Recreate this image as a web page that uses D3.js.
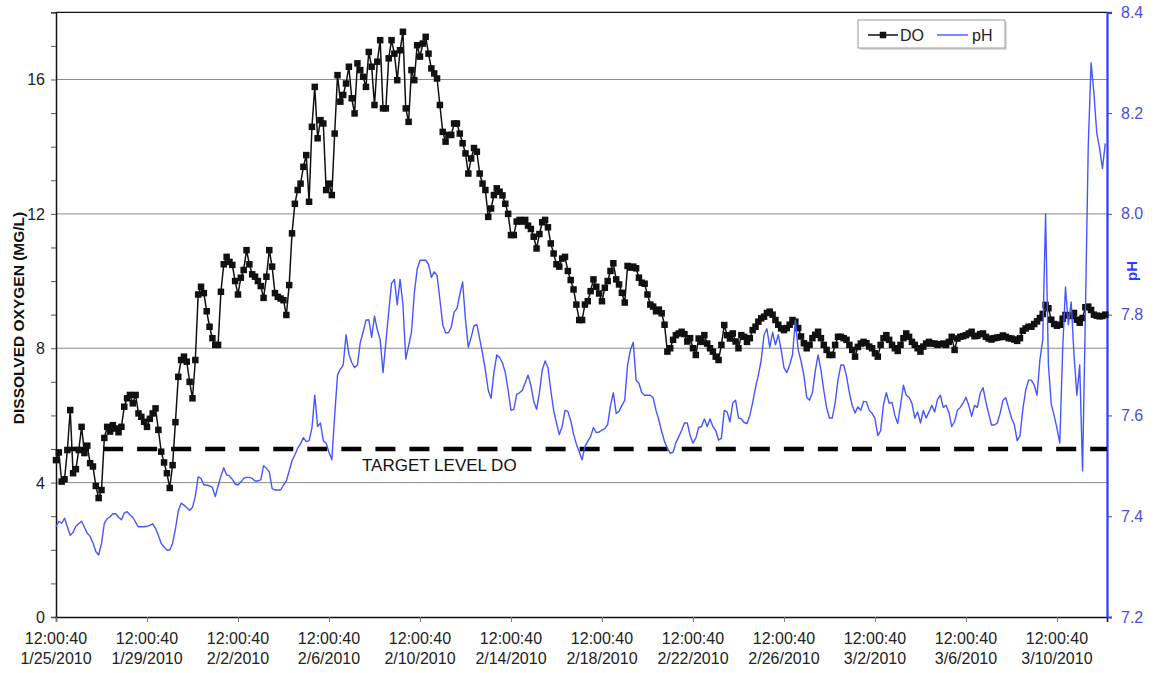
<!DOCTYPE html>
<html>
<head>
<meta charset="utf-8">
<script src="https://cdn.jsdelivr.net/npm/d3@7"></script>
<style>
  body { margin: 0; background: #fff; }
  text { font-family: Arial, "Liberation Sans", sans-serif; }
</style>
</head>
<body>
<svg id="chart" width="1154" height="673"></svg>
<script>
// Readings start 1/25/2010 12:00:40 and were logged every 3 hours.
const startTime = new Date(2010, 0, 25, 12, 0, 40);
const stepHours = 3;
const spanDays = 46.2;

// Dissolved oxygen, mg/L
const doValues = [
  4.67,4.9,4.03,4.1,4.97,6.16,4.28,4.4,4.97,5.66,
  4.88,5.1,4.58,4.48,3.9,3.54,3.78,5.33,5.66,5.52,
  5.71,5.61,5.5,5.66,6.26,6.51,6.61,6.36,6.61,6.06,
  5.96,5.81,5.66,5.9,6.06,6.21,5.57,4.92,4.6,4.28,
  3.84,4.52,5.8,7.15,7.65,7.75,7.6,7.0,6.51,7.65,
  9.6,9.83,9.64,9.1,8.64,8.3,8.1,8.1,9.68,10.5,
  10.72,10.57,10.48,10.0,9.6,10.1,10.33,10.92,10.5,10.2,
  10.13,10.0,9.85,9.5,10.13,10.92,10.43,9.64,9.53,9.48,
  9.43,8.99,9.88,11.42,12.3,12.71,12.9,13.4,13.75,12.36,
  14.59,15.78,14.25,14.79,14.69,12.71,12.9,12.56,14.39,16.13,
  15.34,15.54,15.88,16.38,15.44,14.99,16.48,16.28,16.08,15.78,
  16.82,16.38,15.24,16.53,17.17,15.14,15.14,16.63,17.17,16.77,
  15.98,16.87,17.42,15.14,14.74,16.28,15.98,17.02,16.68,17.07,
  17.27,16.77,16.33,16.18,16.03,15.24,14.44,14.15,14.35,14.35,
  14.69,14.69,14.39,14.1,13.8,13.2,13.65,13.96,13.85,13.2,
  12.9,12.71,11.91,12.16,12.56,12.76,12.66,12.55,12.3,12.0,
  11.37,11.37,11.77,11.82,11.77,11.82,11.65,11.55,11.32,10.97,
  11.4,11.75,11.82,11.6,11.12,10.82,10.5,10.43,10.67,10.72,
  10.3,10.03,9.75,9.3,8.84,8.84,9.3,9.4,9.7,10.05,
  9.83,9.63,9.4,9.8,10.0,10.3,10.53,10.05,9.9,9.65,
  9.36,10.45,10.4,10.43,10.38,10.1,9.95,9.92,9.6,9.3,
  9.24,9.1,9.15,9.04,8.7,7.9,8.0,8.25,8.39,8.44,
  8.49,8.42,8.2,8.3,8.0,7.8,8.29,8.19,8.39,8.14,
  8.0,7.9,7.75,7.65,8.1,8.69,8.39,8.29,8.44,8.2,
  8.0,8.39,8.34,8.19,8.3,8.54,8.64,8.79,8.89,8.94,
  9.05,9.09,9.0,8.84,8.7,8.59,8.54,8.6,8.7,8.84,
  8.79,8.6,8.35,8.15,8.0,8.1,8.3,8.4,8.49,8.3,
  8.1,7.95,7.8,7.8,8.1,8.34,8.34,8.3,8.25,8.1,
  7.95,7.75,8.04,8.14,8.19,8.15,8.05,8.0,7.85,7.75,
  8.1,8.3,8.39,8.25,8.1,8.0,7.92,8.1,8.3,8.44,
  8.34,8.19,8.1,8.0,7.9,8.05,8.14,8.19,8.14,8.14,
  8.1,8.12,8.14,8.1,8.19,8.34,7.95,8.29,8.34,8.36,
  8.39,8.44,8.49,8.36,8.37,8.42,8.44,8.34,8.29,8.26,
  8.3,8.32,8.33,8.38,8.34,8.3,8.29,8.26,8.22,8.3,
  8.52,8.59,8.64,8.64,8.72,8.8,8.9,9.02,9.29,9.19,
  8.85,8.72,8.67,8.7,8.88,8.99,8.98,8.96,9.05,8.85,
  8.76,8.9,9.22,9.24,9.14,9.0,8.97,8.95,8.96,9.0
];

// pH
const phValues = [
  7.379,7.39,7.386,7.396,7.379,7.362,7.368,7.38,7.385,7.39,
  7.378,7.366,7.36,7.347,7.33,7.323,7.346,7.386,7.395,7.399,
  7.405,7.405,7.398,7.393,7.406,7.409,7.403,7.398,7.388,7.379,
  7.379,7.379,7.38,7.382,7.385,7.376,7.362,7.346,7.339,7.333,
  7.333,7.346,7.375,7.41,7.426,7.422,7.417,7.412,7.418,7.44,
  7.478,7.475,7.462,7.462,7.46,7.457,7.439,7.46,7.48,7.496,
  7.482,7.48,7.473,7.464,7.462,7.468,7.475,7.477,7.477,7.475,
  7.47,7.47,7.472,7.5,7.495,7.488,7.455,7.452,7.452,7.452,
  7.462,7.47,7.49,7.51,7.522,7.535,7.544,7.556,7.548,7.55,
  7.575,7.64,7.578,7.585,7.55,7.545,7.527,7.512,7.6,7.68,
  7.692,7.7,7.76,7.722,7.705,7.695,7.7,7.745,7.765,7.789,
  7.79,7.755,7.797,7.77,7.75,7.685,7.745,7.805,7.862,7.87,
  7.82,7.87,7.82,7.712,7.738,7.765,7.842,7.89,7.908,7.908,
  7.908,7.9,7.874,7.885,7.878,7.83,7.78,7.764,7.764,7.775,
  7.805,7.812,7.84,7.865,7.79,7.735,7.755,7.778,7.78,7.752,
  7.723,7.69,7.65,7.634,7.685,7.72,7.715,7.704,7.685,7.65,
  7.61,7.612,7.642,7.645,7.65,7.665,7.68,7.66,7.628,7.612,
  7.645,7.69,7.708,7.695,7.65,7.61,7.585,7.562,7.578,7.61,
  7.608,7.59,7.563,7.543,7.528,7.512,7.538,7.549,7.558,7.576,
  7.566,7.567,7.571,7.574,7.582,7.62,7.645,7.604,7.608,7.62,
  7.63,7.7,7.73,7.745,7.67,7.664,7.645,7.64,7.64,7.64,
  7.635,7.61,7.591,7.568,7.548,7.535,7.525,7.527,7.546,7.558,
  7.57,7.585,7.585,7.56,7.545,7.555,7.576,7.578,7.593,7.578,
  7.593,7.578,7.57,7.551,7.555,7.61,7.607,7.587,7.625,7.63,
  7.595,7.593,7.586,7.584,7.6,7.626,7.655,7.68,7.71,7.76,
  7.772,7.735,7.765,7.74,7.76,7.73,7.695,7.685,7.7,7.72,
  7.789,7.73,7.708,7.68,7.636,7.63,7.645,7.688,7.72,7.69,
  7.65,7.615,7.595,7.595,7.625,7.67,7.7,7.7,7.678,7.645,
  7.62,7.605,7.617,7.61,7.628,7.627,7.61,7.604,7.594,7.56,
  7.57,7.622,7.645,7.624,7.626,7.6,7.584,7.62,7.66,7.64,
  7.636,7.624,7.595,7.607,7.585,7.61,7.595,7.607,7.62,7.607,
  7.632,7.64,7.616,7.62,7.606,7.578,7.588,7.61,7.616,7.625,
  7.636,7.62,7.598,7.62,7.616,7.644,7.655,7.627,7.603,7.581,
  7.581,7.585,7.604,7.63,7.635,7.615,7.595,7.582,7.55,7.56,
  7.612,7.65,7.67,7.67,7.66,7.64,7.71,7.75,8.0,7.7,
  7.622,7.6,7.575,7.545,7.73,7.855,7.78,7.825,7.72,7.64,
  7.7,7.49,7.8,8.133,8.3,8.24,8.16,8.13,8.09,8.14
];

const targetDO = 5;
const targetLabel = "TARGET LEVEL DO";
const xTickDates = ["1/25/2010","1/29/2010","2/2/2010","2/6/2010","2/10/2010","2/14/2010",
                    "2/18/2010","2/22/2010","2/26/2010","3/2/2010","3/6/2010","3/10/2010"];
const xTickTime = "12:00:40";
const doTicks = [0, 4, 8, 12, 16];
const doMinorTicks = d3.range(0, 19, 1);
const phTicks = [7.2, 7.4, 7.6, 7.8, 8.0, 8.2, 8.4];
const seriesNames = ["DO", "pH"];
const leftTitle = "DISSOLVED OXYGEN (MG/L)";
const rightTitle = "pH";

const HOUR = 3600 * 1000, DAY = 24 * HOUR;
const timeOf = i => new Date(startTime.getTime() + i * stepHours * HOUR);
const doSeries = doValues.map((v, i) => ({ t: timeOf(i), v }));
const phSeries = phValues.map((v, i) => ({ t: timeOf(i), v }));
const parseDate = d3.timeParse("%m/%d/%Y %H:%M:%S");
const tickDates = xTickDates.map(s => parseDate(s + " " + xTickTime));

const svg = d3.select("#chart");
const m = { left: 56, right: 1107, top: 12.3, bottom: 617 };

const x = d3.scaleTime()
  .domain([startTime, new Date(startTime.getTime() + spanDays * DAY)])
  .range([m.left, m.right]);
const yDO = d3.scaleLinear().domain([0, 18]).range([m.bottom, m.top]);
const yPH = d3.scaleLinear().domain([7.2, 8.4]).range([m.bottom, m.top]);

const black = "#111", blue = "#2a3cff", phLine = "#4656ff", phText = "#4b4fd6";

// horizontal gridlines
svg.append("g").selectAll("line").data(doTicks.filter(d => d > 0)).join("line")
  .attr("x1", m.left).attr("x2", m.right)
  .attr("y1", d => yDO(d)).attr("y2", d => yDO(d))
  .attr("stroke", "#8c8c8c").attr("stroke-width", 1);

// plot frame top
svg.append("line").attr("x1", m.left).attr("x2", m.right)
  .attr("y1", m.top).attr("y2", m.top).attr("stroke", black).attr("stroke-width", 1.2);

// left axis (DO)
const leftAxis = svg.append("g").attr("transform", `translate(${m.left},0)`)
  .call(d3.axisLeft(yDO).tickValues(doMinorTicks).tickSize(5).tickFormat(""));
leftAxis.select(".domain").attr("stroke", black).attr("stroke-width", 1.5);
leftAxis.selectAll(".tick line").attr("stroke", "#555");
svg.append("g").selectAll("text").data(doTicks).join("text")
  .attr("x", m.left - 11).attr("y", d => yDO(d) + 6)
  .attr("text-anchor", "end").attr("font-size", 16).attr("fill", "#222")
  .text(d => d);

// bottom axis (time)
const bottomAxis = svg.append("g").attr("transform", `translate(0,${m.bottom})`)
  .call(d3.axisBottom(x).tickValues(tickDates).tickSize(5).tickFormat(""));
bottomAxis.select(".domain").attr("stroke", black).attr("stroke-width", 1.5);
bottomAxis.selectAll(".tick line").attr("stroke", "#777");
const fmtTime = d3.timeFormat("%H:%M:%S"), fmtDate = d3.timeFormat("%-m/%-d/%Y");
const xl = svg.append("g").selectAll("text").data(tickDates).join("text")
  .attr("text-anchor", "middle").attr("font-size", 16).attr("fill", "#222");
xl.append("tspan").attr("x", d => x(d)).attr("y", 644).text(d => fmtTime(d));
xl.append("tspan").attr("x", d => x(d)).attr("y", 664).text(d => fmtDate(d));

// right axis (pH)
const rightAxis = svg.append("g").attr("transform", `translate(${m.right},0)`)
  .call(d3.axisRight(yPH).tickValues(phTicks).tickSize(5).tickPadding(9)
    .tickFormat(d3.format(".1f")));
rightAxis.select(".domain").attr("stroke", blue).attr("stroke-width", 2.2);
rightAxis.selectAll(".tick line").attr("stroke", blue);
rightAxis.selectAll(".tick text").attr("font-size", 16).attr("fill", phText)
  .attr("font-family", "Arial, 'Liberation Sans', sans-serif");

// axis titles
svg.append("text").attr("transform", `translate(24,318) rotate(-90)`)
  .attr("text-anchor", "middle").attr("font-size", 15.5).attr("font-weight", "bold")
  .attr("fill", "#111").text(leftTitle);
svg.append("text").attr("transform", `translate(1137,271) rotate(-90)`)
  .attr("text-anchor", "middle").attr("font-size", 15).attr("font-weight", "bold")
  .attr("fill", blue).text(rightTitle);

// target DO level
svg.append("line").attr("x1", m.left).attr("x2", m.right)
  .attr("y1", yDO(targetDO)).attr("y2", yDO(targetDO))
  .attr("stroke", "#000").attr("stroke-width", 4.5)
  .attr("stroke-dasharray", "20,14.04").attr("stroke-dashoffset", 21);
svg.append("text").attr("x", 362).attr("y", yDO(targetDO) + 22)
  .attr("font-size", 17).attr("fill", "#111").text(targetLabel);

// DO series: line with square markers
svg.append("path").datum(doSeries)
  .attr("fill", "none").attr("stroke", black).attr("stroke-width", 1.5)
  .attr("d", d3.line().x(d => x(d.t)).y(d => yDO(d.v)));
const ms = 6.5;
svg.append("g").selectAll("rect").data(doSeries).join("rect")
  .attr("x", d => x(d.t) - ms / 2).attr("y", d => yDO(d.v) - ms / 2)
  .attr("width", ms).attr("height", ms).attr("fill", black);

// pH series
svg.append("path").datum(phSeries)
  .attr("fill", "none").attr("stroke", phLine).attr("stroke-width", 1.4)
  .attr("stroke-linejoin", "round")
  .attr("d", d3.line().x(d => x(d.t)).y(d => yPH(d.v)));

// legend
const lg = svg.append("g");
lg.append("rect").attr("x", 860).attr("y", 22).attr("width", 147).attr("height", 28)
  .attr("fill", "#ddd");
lg.append("rect").attr("x", 858).attr("y", 20).attr("width", 147).attr("height", 28)
  .attr("fill", "#fff").attr("stroke", "#999").attr("stroke-width", 1);
lg.append("line").attr("x1", 868).attr("x2", 898).attr("y1", 35).attr("y2", 35)
  .attr("stroke", black).attr("stroke-width", 1.5);
lg.append("rect").attr("x", 883 - ms / 2).attr("y", 35 - ms / 2)
  .attr("width", ms).attr("height", ms).attr("fill", black);
lg.append("text").attr("x", 900).attr("y", 41).attr("font-size", 16).attr("fill", "#222").text(seriesNames[0]);
lg.append("line").attr("x1", 937).attr("x2", 968).attr("y1", 35).attr("y2", 35)
  .attr("stroke", phLine).attr("stroke-width", 1.4);
lg.append("text").attr("x", 972).attr("y", 41).attr("font-size", 16).attr("fill", "#222").text(seriesNames[1]);
</script>
</body>
</html>
